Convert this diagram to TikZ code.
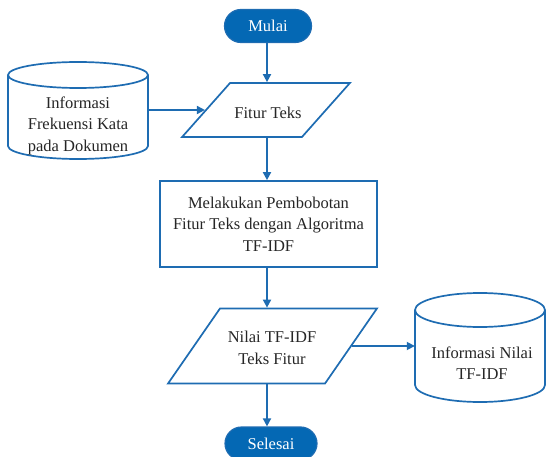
\documentclass[tikz,border=0pt]{standalone}
\usepackage{fontspec}
\setmainfont{Liberation Serif}
\usetikzlibrary{shapes.geometric,arrows.meta}
\definecolor{lineblue}{RGB}{30,108,178}
\definecolor{termblue}{RGB}{4,104,180}
\tikzset{
  every node/.style={font=\fontsize{16.5}{21.5}\selectfont, align=center, text=black!85},
  flowline/.style={draw=lineblue, line width=1.7pt},
  arr/.style={flowline, -{Triangle[length=8pt,width=8pt]}},
  terminal/.style={draw=lineblue, fill=termblue, line width=1.2pt, rounded corners=16.5pt,
    minimum height=33pt, text=white},
  iobox/.style={trapezium, draw=lineblue, fill=white, line width=1.7pt,
    trapezium stretches=true},
  procbox/.style={rectangle, draw=lineblue, fill=white, line width=1.7pt},
  dbshape/.style={draw=lineblue, fill=white, line width=1.7pt},
}
\begin{document}
\begin{tikzpicture}[x=1pt,y=1pt]
\useasboundingbox (0,0) rectangle (546,-457);
\clip (0,0) rectangle (546,-457);

% terminals
\node[terminal, minimum width=87pt] (mulai) at (268,-26) {Mulai};
\node[terminal, minimum width=92pt] (selesai) at (271,-443.5) {Selesai};

% input / output parallelograms
\node[iobox, minimum width=168pt, minimum height=54pt,
  trapezium left angle=56.3, trapezium right angle=123.7] (fitur) at (266,-110) {};
\node at (268,-113) {Fitur Teks};

\node[procbox, minimum width=217pt, minimum height=86pt] (proses) at (268.5,-224)
  {Melakukan Pembobotan\\Fitur Teks dengan Algoritma\\TF-IDF};

\node[iobox, minimum width=209pt, minimum height=75pt,
  trapezium left angle=63.7, trapezium right angle=116.3] (nilai) at (272.5,-346) {};
\node at (272,-348) {Nilai TF-IDF\\Teks Fitur};

% stored data: left cylinder
\draw[dbshape] (8,-75) -- (8,-146)
  arc[start angle=180, end angle=360, x radius=70, y radius=13]
  -- (148,-75) arc[start angle=0, end angle=180, x radius=70, y radius=13] -- cycle;
\draw[dbshape, fill=none] (8,-75) arc[start angle=180, end angle=360, x radius=70, y radius=13];
\node[minimum width=140pt, minimum height=70pt] (dokumen) at (78,-110) {};
\node at (78,-125.5) {Informasi\\Frekuensi Kata\\pada Dokumen};

% stored data: right cylinder
\draw[dbshape] (415,-310) -- (415,-385)
  arc[start angle=180, end angle=360, x radius=65, y radius=17]
  -- (545,-310) arc[start angle=0, end angle=180, x radius=65, y radius=17] -- cycle;
\draw[dbshape, fill=none] (415,-310) arc[start angle=180, end angle=360, x radius=65, y radius=17];
\node[minimum width=130pt, minimum height=70pt] (hasil) at (480,-348) {};
\node at (482,-363) {Informasi Nilai\\TF-IDF};

% connectors, all along one vertical axis
\coordinate (axis) at (267,0);
\draw[arr] (axis |- mulai.south) -- (axis |- fitur.north);
\draw[arr] (dokumen.east) -- (fitur.west);
\draw[arr] (axis |- fitur.south) -- (axis |- proses.north);
\draw[arr] (axis |- proses.south) -- (axis |- nilai.north);
\draw[arr] (nilai.east) -- (nilai.east -| hasil.west);
\draw[arr] (axis |- nilai.south) -- (axis |- selesai.north);
\end{tikzpicture}
\end{document}
